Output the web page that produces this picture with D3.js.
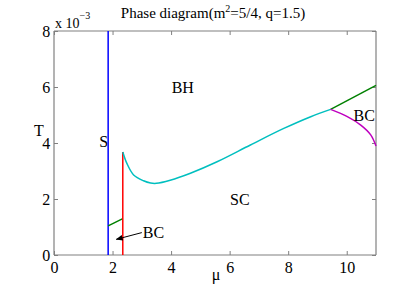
<!DOCTYPE html>
<html>
<head>
<meta charset="utf-8">
<script src="https://cdn.jsdelivr.net/npm/d3@7"></script>
<style>
  body { margin: 0; background: #fff; }
  text { font-family: "Liberation Serif", "Times New Roman", serif; fill: #000; }
</style>
</head>
<body>
<div class="canvas"></div>
<script>
// T values are in units of 1e-3
const xTicks = [0, 2, 4, 6, 8, 10];
const yTicks = [0, 2, 4, 6, 8];

const blueMu = [1.85, 1.85];
const blueT = [0, 8];

const redMu = [2.35, 2.35];
const redT = [0, 3.68];

const greenLowMu = [1.85, 2.35];
const greenLowT = [1.04, 1.3];

const cyanMu = [2.35, 2.49, 2.72, 3.06, 3.3, 3.5, 3.97, 4.66, 5.57, 6.71, 7.85, 8.77, 9.45];
const cyanT = [3.68, 3.27, 2.86, 2.65, 2.57, 2.56, 2.67, 2.92, 3.33, 3.93, 4.52, 4.94, 5.2];

const greenHighMu = [9.45, 11];
const greenHighT = [5.2, 6.06];

const magentaMu = [9.45, 10.02, 10.48, 10.82, 11];
const magentaT = [5.2, 4.94, 4.64, 4.29, 3.89];

const W = 415, H = 288;
const margin = { left: 54, right: 39, top: 31, bottom: 33 };
const serif = '"Liberation Serif", "Times New Roman", serif';

const svg = d3.select(".canvas")
  .append("svg")
    .attr("width", W)
    .attr("height", H);

const x = d3.scaleLinear().domain([0, 11]).range([margin.left, W - margin.right]);
const y = d3.scaleLinear().domain([0, 8]).range([H - margin.bottom, margin.top]);

const axisColor = "#808080";
const tickLen = 4;

// axes box, ticks pointing inward like matlab
const axB = svg.append("g").attr("transform", `translate(0,${y(0)})`)
  .call(d3.axisBottom(x).tickValues(xTicks).tickSize(-tickLen).tickPadding(7));
const axT = svg.append("g").attr("transform", `translate(0,${y(8)})`)
  .call(d3.axisTop(x).tickValues(xTicks).tickSize(-tickLen).tickFormat(""));
const axL = svg.append("g").attr("transform", `translate(${x(0)},0)`)
  .call(d3.axisLeft(y).tickValues(yTicks).tickSize(-tickLen).tickPadding(3));
const axR = svg.append("g").attr("transform", `translate(${x(11)},0)`)
  .call(d3.axisRight(y).tickValues(yTicks).tickSize(-tickLen).tickFormat(""));

[axB, axT, axL, axR].forEach(a => {
  a.attr("font-family", serif).attr("font-size", 16);
  a.select(".domain").attr("stroke", axisColor).attr("stroke-width", 1.2);
  a.selectAll(".tick line").attr("stroke", axisColor);
  a.selectAll(".tick text")
    .style("font-family", serif)
    .style("font-size", "16px")
    .attr("fill", "#000");
});
axB.select(".domain").attr("d", `M${x(0)},0H${x(11)}`);
axT.select(".domain").attr("d", `M${x(0)},0H${x(11)}`);
axL.select(".domain").attr("d", `M0,${y(0)}V${y(8)}`);
axR.select(".domain").attr("d", `M0,${y(0)}V${y(8)}`);
axL.selectAll(".tick text").attr("dx", "-0.05em");

// lines
const curved = d3.line()
  .x(d => x(d[0]))
  .y(d => y(d[1]))
  .curve(d3.curveCatmullRom.alpha(0.5));

const series = [
  { mu: blueMu, t: blueT, color: "#0000ff" },
  { mu: greenLowMu, t: greenLowT, color: "#008000" },
  { mu: redMu, t: redT, color: "#ff0000" },
  { mu: cyanMu, t: cyanT, color: "#00bfbf" },
  { mu: greenHighMu, t: greenHighT, color: "#008000" },
  { mu: magentaMu, t: magentaT, color: "#bf00bf" }
];

series.forEach(s => {
  const pts = s.mu.map((m, i) => [m, s.t[i]]);
  svg.append("path")
    .attr("d", curved(pts))
    .attr("fill", "none")
    .attr("stroke", s.color)
    .attr("stroke-width", 1.5);
});

// title
svg.append("text")
  .attr("x", 213).attr("y", 18)
  .attr("text-anchor", "middle")
  .style("font-size", "15px")
  .html('Phase diagram(m<tspan dy="-6" font-size="10px">2</tspan><tspan dy="6">=5/4, q=1.5)</tspan>');

// exponent label
svg.append("text")
  .attr("x", 55).attr("y", 28)
  .style("font-size", "14px")
  .html('x 10<tspan dy="-9" font-size="10px">&#8722;3</tspan>');

// axis labels
svg.append("text")
  .attr("x", 216).attr("y", 280)
  .attr("text-anchor", "middle")
  .style("font-size", "16px")
  .text("μ");

svg.append("text")
  .attr("x", 39).attr("y", 136)
  .attr("text-anchor", "middle")
  .style("font-size", "16px")
  .text("T");

// region labels
const labels = [
  { text: "BH", mu: 4.4, t: 5.8 },
  { text: "S", mu: 1.7, t: 3.84 },
  { text: "SC", mu: 6.35, t: 1.8 },
  { text: "BC", mu: 10.6, t: 4.8 },
  { text: "BC", mu: 3.4, t: 0.62 }
];
svg.selectAll(".region")
  .data(labels)
  .enter()
  .append("text")
    .attr("class", "region")
    .attr("x", d => x(d.mu))
    .attr("y", d => y(d.t))
    .attr("text-anchor", "middle")
    .style("font-size", "16px")
    .text(d => d.text);

// arrow pointing at the small BC region
svg.append("defs").append("marker")
  .attr("id", "head")
  .attr("viewBox", "0 0 10 10")
  .attr("refX", 9).attr("refY", 5)
  .attr("markerWidth", 7).attr("markerHeight", 7)
  .attr("orient", "auto")
  .append("path")
    .attr("d", "M0,1L10,5L0,9z")
    .attr("fill", "#000");

svg.append("line")
  .attr("x1", x(3.0)).attr("y1", y(0.8))
  .attr("x2", x(2.13)).attr("y2", y(0.56))
  .attr("stroke", "#000")
  .attr("stroke-width", 1)
  .attr("marker-end", "url(#head)");
</script>
</body>
</html>
